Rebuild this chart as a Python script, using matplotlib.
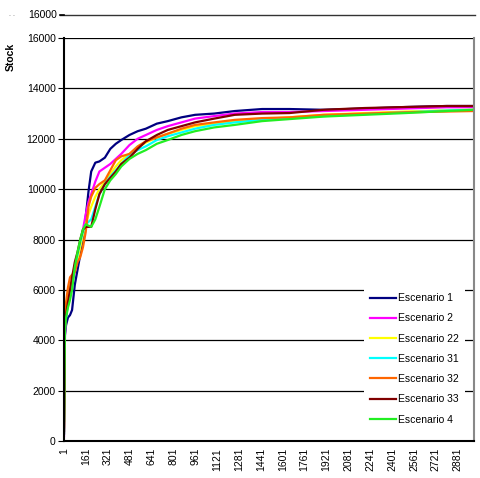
import matplotlib
matplotlib.use("Agg")
import matplotlib.pyplot as plt
from matplotlib.lines import Line2D

plt.rcParams["font.family"] = ["Liberation Sans", "DejaVu Sans"]

# Sampled stock levels per scenario (period -> stock)
periods = [1, 8, 16, 30, 45, 60, 80, 100, 120, 140, 160, 180, 200, 230, 260, 300,
           340, 380, 420, 480, 540, 600, 680, 760, 860, 960, 1100, 1250, 1450,
           1650, 1900, 2200, 2500, 2800, 3000]

esc_1 = [300, 4200, 4600, 4900, 5000, 5200, 6200, 6800, 7400, 8100, 8900, 9900,
         10700, 11050, 11100, 11250, 11600, 11800, 11950, 12150, 12300, 12400,
         12600, 12700, 12850, 12950, 13000, 13100, 13180, 13180, 13150, 13200,
         13260, 13300, 13300]
esc_2 = [200, 4300, 5000, 5600, 6000, 6300, 6700, 7200, 7800, 8400, 9000, 9500,
         9800, 10300, 10700, 10850, 11000, 11200, 11400, 11750, 12000, 12150,
         12350, 12500, 12650, 12800, 12900, 13000, 13060, 13060, 13100, 13150,
         13200, 13250, 13250]
esc_22 = [300, 4500, 5100, 5700, 6100, 6400, 6800, 7200, 7700, 8200, 8600, 9000,
          9300, 9700, 10000, 10300, 10600, 10900, 11150, 11400, 11650, 11850,
          12050, 12200, 12350, 12500, 12600, 12700, 12780, 12850, 12950, 13020,
          13080, 13130, 13150]
esc_31 = [300, 4400, 4900, 5400, 5800, 6200, 6900, 7400, 7900, 8300, 8600, 8700,
          8800, 9300, 9800, 10200, 10500, 10750, 11000, 11350, 11550, 11700,
          11950, 12100, 12250, 12400, 12550, 12650, 12750, 12820, 12900, 12980,
          13050, 13120, 13150]
esc_32 = [550, 4600, 5500, 6100, 6500, 6600, 6700, 7100, 7300, 7700, 8300, 9300,
          9700, 10050, 10200, 10350, 10750, 11150, 11300, 11400, 11700, 11900,
          12050, 12200, 12400, 12550, 12650, 12750, 12820, 12850, 12950, 13000,
          13050, 13080, 13100]
esc_33 = [400, 4500, 5000, 5500, 6000, 6500, 7100, 7500, 8000, 8400, 8500, 8500,
          8500, 9200, 9800, 10200, 10450, 10700, 11000, 11250, 11600, 11900,
          12150, 12350, 12500, 12650, 12800, 12950, 13000, 13020, 13150, 13220,
          13260, 13300, 13300]
esc_4 = [800, 4500, 4900, 5300, 5600, 6000, 6900, 7500, 8000, 8400, 8600, 8550,
         8500, 8800, 9300, 10000, 10350, 10600, 10900, 11200, 11400, 11550,
         11800, 11950, 12150, 12300, 12450, 12550, 12700, 12780, 12880, 12950,
         13020, 13100, 13150]

names = ["Escenario 1", "Escenario 2", "Escenario 22", "Escenario 31",
         "Escenario 32", "Escenario 33", "Escenario 4"]
colors = ["#000080", "#ff00ff", "#ffff00", "#00ffff", "#ff6600", "#800000", "#22ee22"]
series = [esc_1, esc_2, esc_22, esc_31, esc_32, esc_33, esc_4]

x_ticks = list(range(1, 2882, 160))
y_ticks = list(range(0, 16001, 2000))

fig = plt.figure(figsize=(4.81, 4.78), dpi=100)
ax = fig.add_axes([64 / 481, 37 / 478, 410 / 481, 403 / 478])

for vals, name, col in zip(series, names, colors):
    ax.plot(periods, vals, color=col, lw=1.6, label=name)

ax.set_xlim(1, 3000)
ax.set_ylim(0, 16000)
ax.set_yticks(y_ticks)
ax.set_xticks(x_ticks)
ax.set_xticklabels([str(t) for t in x_ticks], rotation=90, fontsize=7.5)
ax.tick_params(axis="y", labelsize=7.5, length=4, width=0.8, pad=2)
ax.tick_params(axis="x", length=0, pad=5)
ax.grid(axis="y", color="black", lw=0.9)
ax.set_axisbelow(True)

ax.spines["top"].set_visible(False)
ax.spines["left"].set_linewidth(1.5)
ax.spines["bottom"].set_linewidth(1.5)
ax.spines["right"].set_color("#888888")
ax.spines["right"].set_linewidth(1.5)

fig.text(11 / 481, 1 - 57 / 478, "Stock", rotation=90, fontsize=7.5,
         fontweight="bold", ha="center", va="center")

# upper frame line with its own 16000 label and tick
fig.add_artist(Line2D([60 / 481, 475 / 481], [1 - 15 / 478, 1 - 15 / 478],
                      color="#333333", lw=1.0))
fig.add_artist(Line2D([60 / 481, 64 / 481], [1 - 15 / 478, 1 - 15 / 478],
                      color="black", lw=1.2))
fig.text(57 / 481, 1 - 15 / 478, "16000", fontsize=7.5, ha="right", va="center")
fig.text(12 / 481, 1 - 15 / 478, ". .", fontsize=5, color="#666666",
         ha="center", va="center")

leg = ax.legend(loc="upper left", bbox_to_anchor=(0.718, 0.395), fontsize=7.5,
                frameon=True, facecolor="white", edgecolor="none", framealpha=1,
                fancybox=False, handlelength=2.5, handletextpad=0.2,
                labelspacing=0.98, borderpad=0.6)

fig.savefig("out.png", dpi=100)
